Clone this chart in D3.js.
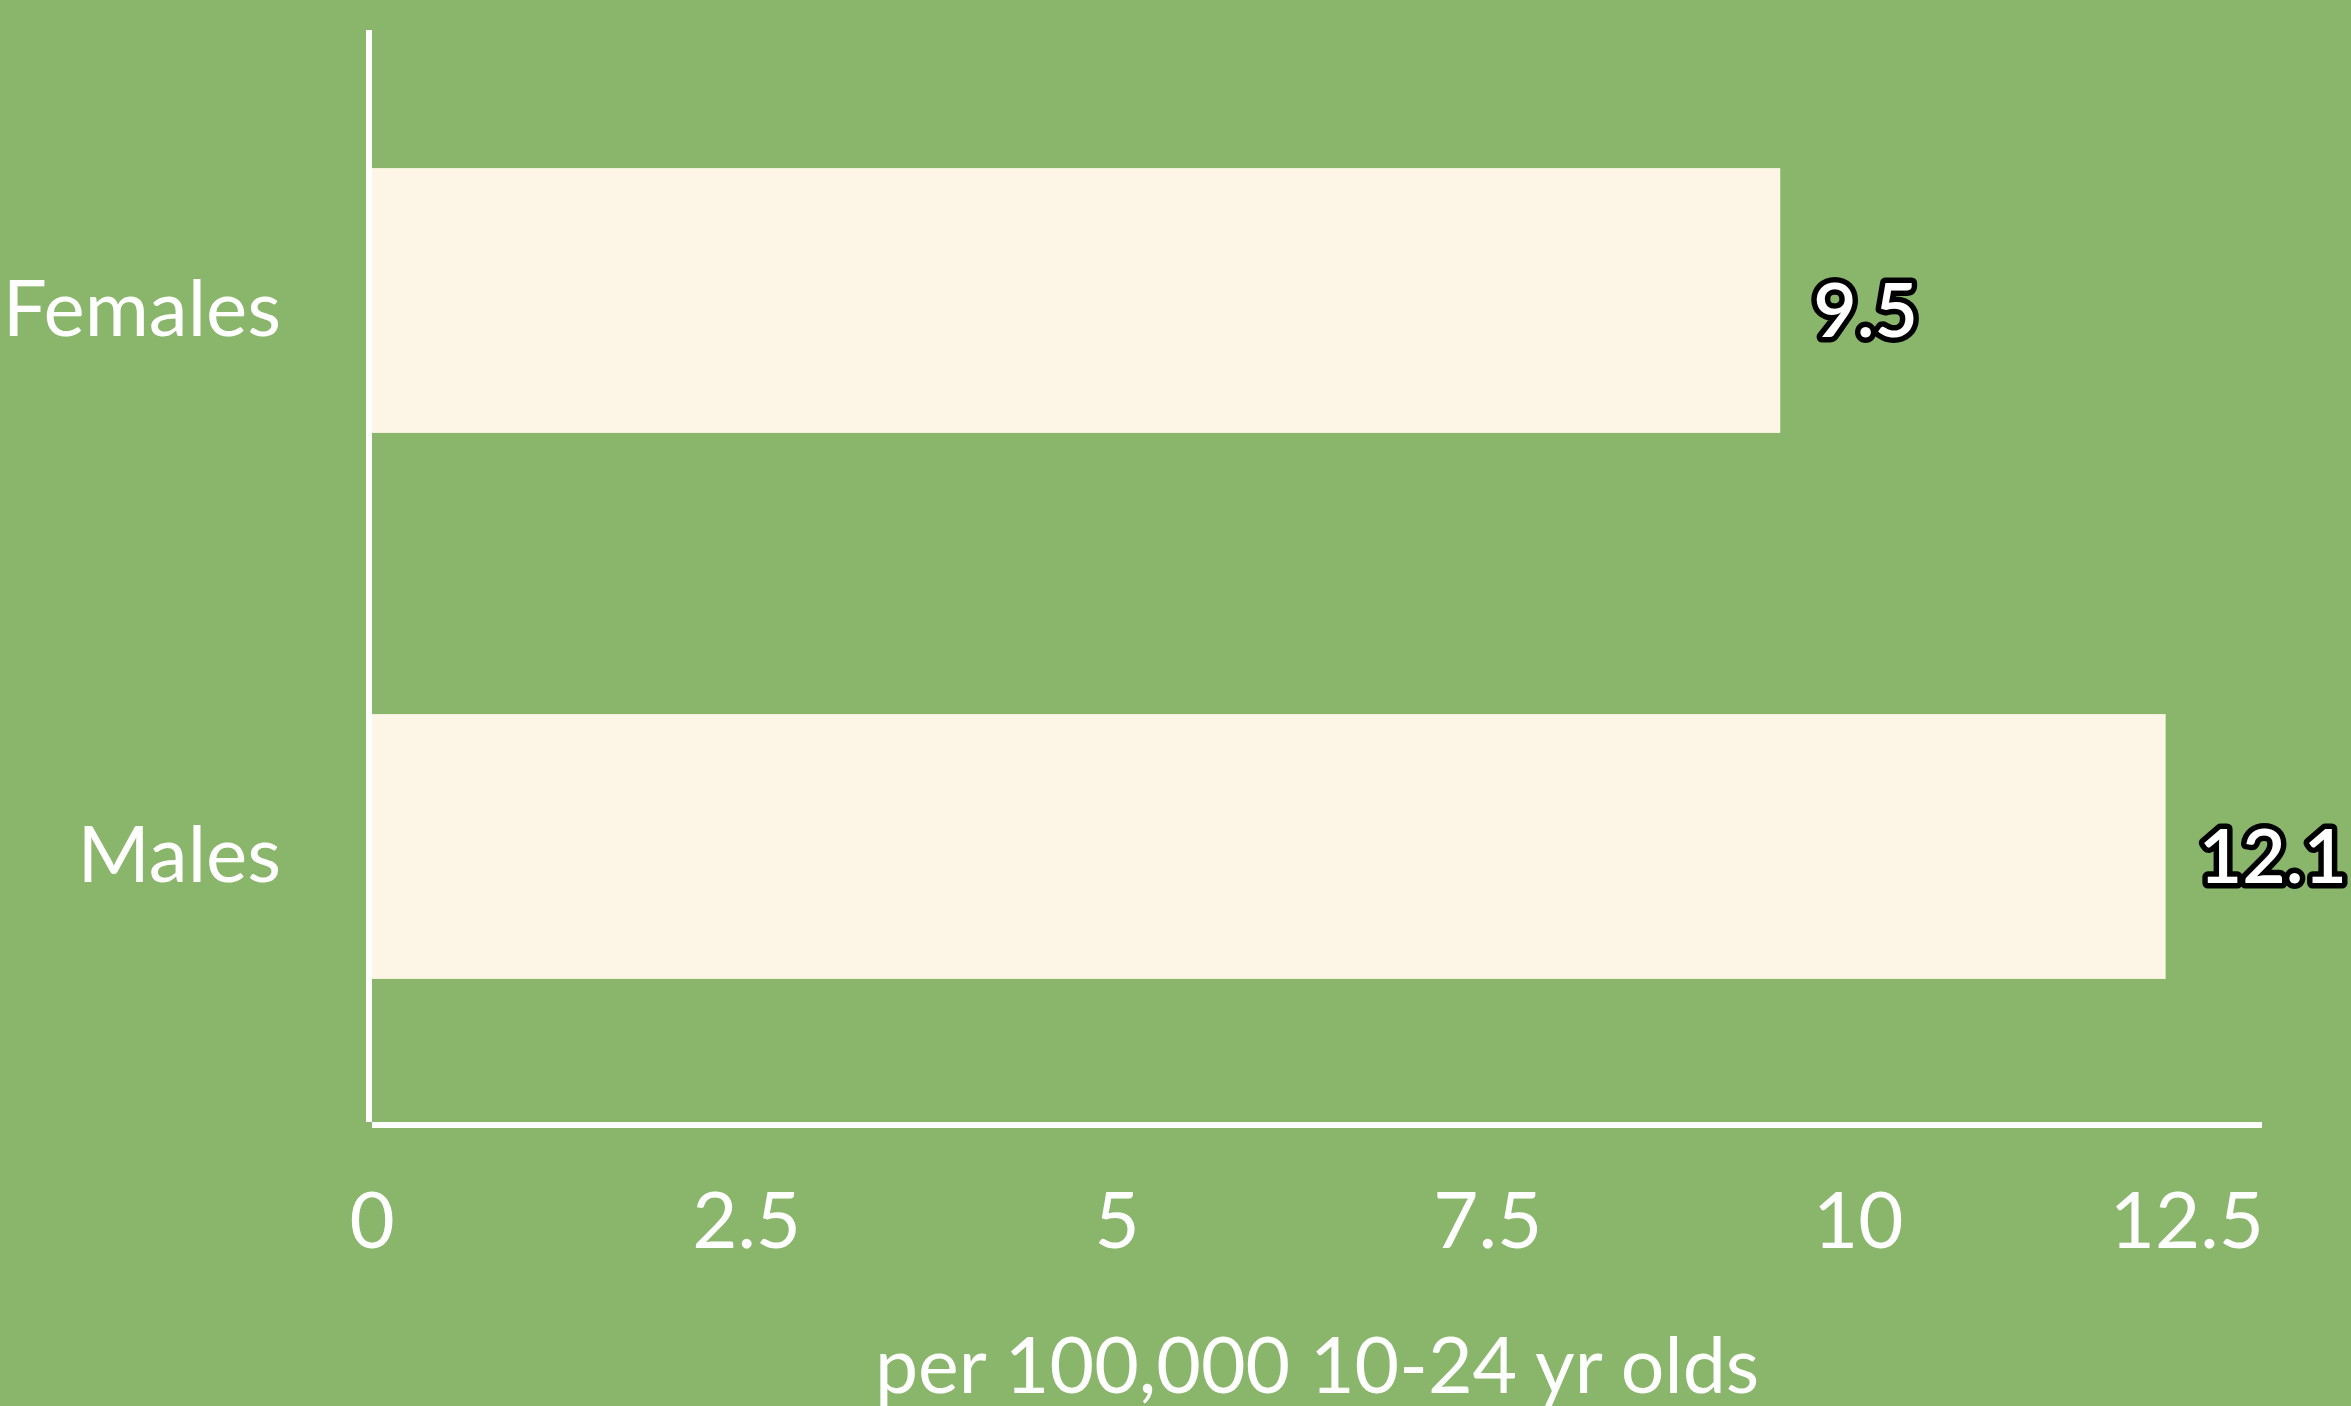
<!DOCTYPE html>
<html>
<head>
<meta charset="utf-8">
<script src="https://cdn.jsdelivr.net/npm/d3@7"></script>
<style>
  html, body { margin: 0; padding: 0; background: #8AB66B; overflow: hidden; }
  svg { display: block; }
  text { font-family: Lato, "Open Sans", sans-serif; }
</style>
</head>
<body>
<script>
const categories = ["Females", "Males"];
const values = [9.5, 12.1];
const tickValues = [0, 2.5, 5, 7.5, 10, 12.5];
const tickLabels = ["0", "2.5", "5", "7.5", "10", "12.5"];
const xTitle = "per 100,000 10-24 yr olds";
const xMax = 12.75;

const W = 2351, H = 1406;
const bg = "#8AB66B", barColor = "#FDF5E6";

const svg = d3.select("body").append("svg").attr("width", W).attr("height", H);
svg.append("rect").attr("width", W).attr("height", H).attr("fill", bg);

const x = d3.scaleLinear().domain([0, xMax]).range([372, 2262]);
const y = d3.scaleBand().domain(categories).range([27.5, 1119.5])
  .paddingInner(0.515).paddingOuter(0.2575);

// bars
svg.selectAll("rect.bar").data(categories).join("rect")
  .attr("class", "bar")
  .attr("x", x(0))
  .attr("y", d => y(d))
  .attr("width", (d, i) => x(values[i]) - x(0))
  .attr("height", y.bandwidth())
  .attr("fill", barColor);

// y axis line
svg.append("line").attr("x1", 369).attr("x2", 369).attr("y1", 30).attr("y2", 1122)
  .attr("stroke", "#fff").attr("stroke-width", 6);
// x axis line
svg.append("line").attr("x1", 372).attr("x2", x.range()[1]).attr("y1", 1125).attr("y2", 1125)
  .attr("stroke", "#fff").attr("stroke-width", 6);

// category labels
svg.selectAll("text.cat").data(categories).join("text")
  .attr("class", "cat")
  .attr("x", 281)
  .attr("y", d => y(d) + y.bandwidth() / 2 + 35.5)
  .attr("text-anchor", "end")
  .attr("fill", "#fff")
  .attr("font-size", 78)
  .text(d => d);

// tick labels
svg.selectAll("text.tick").data(tickValues).join("text")
  .attr("class", "tick")
  .attr("x", (d, i) => i === tickValues.length - 1 ? x.range()[1] + 2 : x(d) + (d > 0 ? 4 : 0))
  .attr("y", 1248)
  .attr("text-anchor", (d, i) => i === tickValues.length - 1 ? "end" : "middle")
  .attr("fill", "#fff")
  .attr("font-size", 78)
  .text((d, i) => tickLabels[i]);

// axis title
svg.append("text")
  .attr("x", (x.range()[0] + x.range()[1]) / 2)
  .attr("y", 1393)
  .attr("text-anchor", "middle")
  .attr("fill", "#fff")
  .attr("font-size", 77)
  .text(xTitle);

// value labels
svg.selectAll("text.val").data(categories).join("text")
  .attr("class", "val")
  .attr("x", (d, i) => x(values[i]) + 33)
  .attr("y", d => y(d) + y.bandwidth() / 2 + 36)
  .attr("fill", "#fff")
  .attr("stroke", "#000")
  .attr("stroke-width", 11)
  .attr("stroke-linejoin", "round")
  .attr("paint-order", "stroke")
  .attr("font-weight", 600)
  .attr("font-size", 75)
  .text((d, i) => String(values[i]));
</script>
</body>
</html>
